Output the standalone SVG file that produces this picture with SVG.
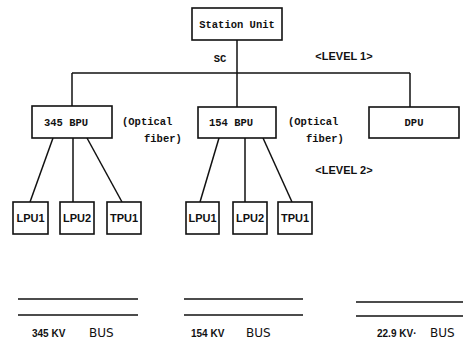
<svg xmlns="http://www.w3.org/2000/svg" width="467" height="345" viewBox="0 0 467 345">
<style>
.box{fill:#fff;stroke:#111;stroke-width:1.6}
.ln{stroke:#111;stroke-width:1.5;fill:none}
.bus{stroke:#111;stroke-width:1.6}
.t{font-family:"Liberation Mono","DejaVu Sans Mono",monospace;font-weight:bold;font-size:10.5px;fill:#111}
.s{font-family:"Liberation Sans",sans-serif;font-weight:bold;font-size:10px;fill:#111}
.lv{font-family:"Liberation Sans",sans-serif;font-weight:bold;font-size:11px;fill:#111}
.u{font-family:"Liberation Sans",sans-serif;font-weight:bold;font-size:11px;fill:#111}
.b{font-family:"DejaVu Sans","Liberation Sans",sans-serif;font-size:12px;fill:#111}
</style>
<rect width="467" height="345" fill="#fff"/>
<g id="connectors">
<line class="ln" x1="237" y1="40" x2="237" y2="73"/>
<line class="ln" x1="72" y1="73" x2="410" y2="73"/>
<line class="ln" x1="72" y1="73" x2="72" y2="106"/>
<line class="ln" x1="237" y1="73" x2="237" y2="107"/>
<line class="ln" x1="410" y1="73" x2="410" y2="107"/>
<line class="ln" x1="53" y1="138" x2="30" y2="202"/>
<line class="ln" x1="73" y1="138" x2="73" y2="202"/>
<line class="ln" x1="87" y1="138" x2="122" y2="202"/>
<line class="ln" x1="219" y1="138" x2="200" y2="202"/>
<line class="ln" x1="245" y1="138" x2="245" y2="202"/>
<line class="ln" x1="263" y1="138" x2="292" y2="202"/>
</g>
<g id="station-unit"><rect class="box" x="192" y="8" width="90" height="32"/><text class="t" x="237" y="28" text-anchor="middle">Station Unit</text></g>
<text class="t" x="220" y="62" text-anchor="middle">SC</text>
<text class="lv" x="344" y="60" text-anchor="middle">&lt;LEVEL 1&gt;</text>
<g id="bpu345"><rect class="box" x="32" y="106" width="80" height="32"/><text class="t" x="66" y="126" text-anchor="middle">345 BPU</text></g>
<g id="bpu154"><rect class="box" x="198" y="107" width="78" height="31"/><text class="t" x="231" y="126" text-anchor="middle">154 BPU</text></g>
<g id="dpu"><rect class="box" x="369" y="107" width="90" height="31"/><text class="t" x="414" y="126" text-anchor="middle">DPU</text></g>
<text class="t" x="122" y="125">(Optical</text>
<text class="t" x="144" y="142">fiber)</text>
<text class="t" x="288" y="125">(Optical</text>
<text class="t" x="306" y="142">fiber)</text>
<text class="lv" x="344" y="174" text-anchor="middle">&lt;LEVEL 2&gt;</text>
<g id="lpu1a"><rect class="box" x="13" y="202" width="35" height="32"/><text class="u" x="30.5" y="222" text-anchor="middle">LPU1</text></g>
<g id="lpu2a"><rect class="box" x="60" y="202" width="34" height="32"/><text class="u" x="77" y="222" text-anchor="middle">LPU2</text></g>
<g id="tpu1a"><rect class="box" x="107" y="202" width="34" height="32"/><text class="u" x="124" y="222" text-anchor="middle">TPU1</text></g>
<g id="lpu1b"><rect class="box" x="186" y="202" width="33" height="32"/><text class="u" x="202.5" y="222" text-anchor="middle">LPU1</text></g>
<g id="lpu2b"><rect class="box" x="233" y="202" width="34" height="32"/><text class="u" x="250" y="222" text-anchor="middle">LPU2</text></g>
<g id="tpu1b"><rect class="box" x="278" y="202" width="34" height="32"/><text class="u" x="295" y="222" text-anchor="middle">TPU1</text></g>
<g id="bus345"><line class="bus" x1="18" y1="299" x2="138" y2="299"/><line class="bus" x1="18" y1="315" x2="138" y2="315"/><text class="s" x="32" y="337">345 KV</text><text class="b" x="89" y="337">BUS</text></g>
<g id="bus154"><line class="bus" x1="184" y1="299" x2="303" y2="299"/><line class="bus" x1="184" y1="315" x2="303" y2="315"/><text class="s" x="191" y="337">154 KV</text><text class="b" x="246" y="337">BUS</text></g>
<g id="bus229"><line class="bus" x1="356" y1="302" x2="463" y2="302"/><line class="bus" x1="356" y1="316" x2="463" y2="316"/><text class="s" x="377" y="337">22.9 KV·</text><text class="b" x="430" y="337">BUS</text></g>
</svg>
